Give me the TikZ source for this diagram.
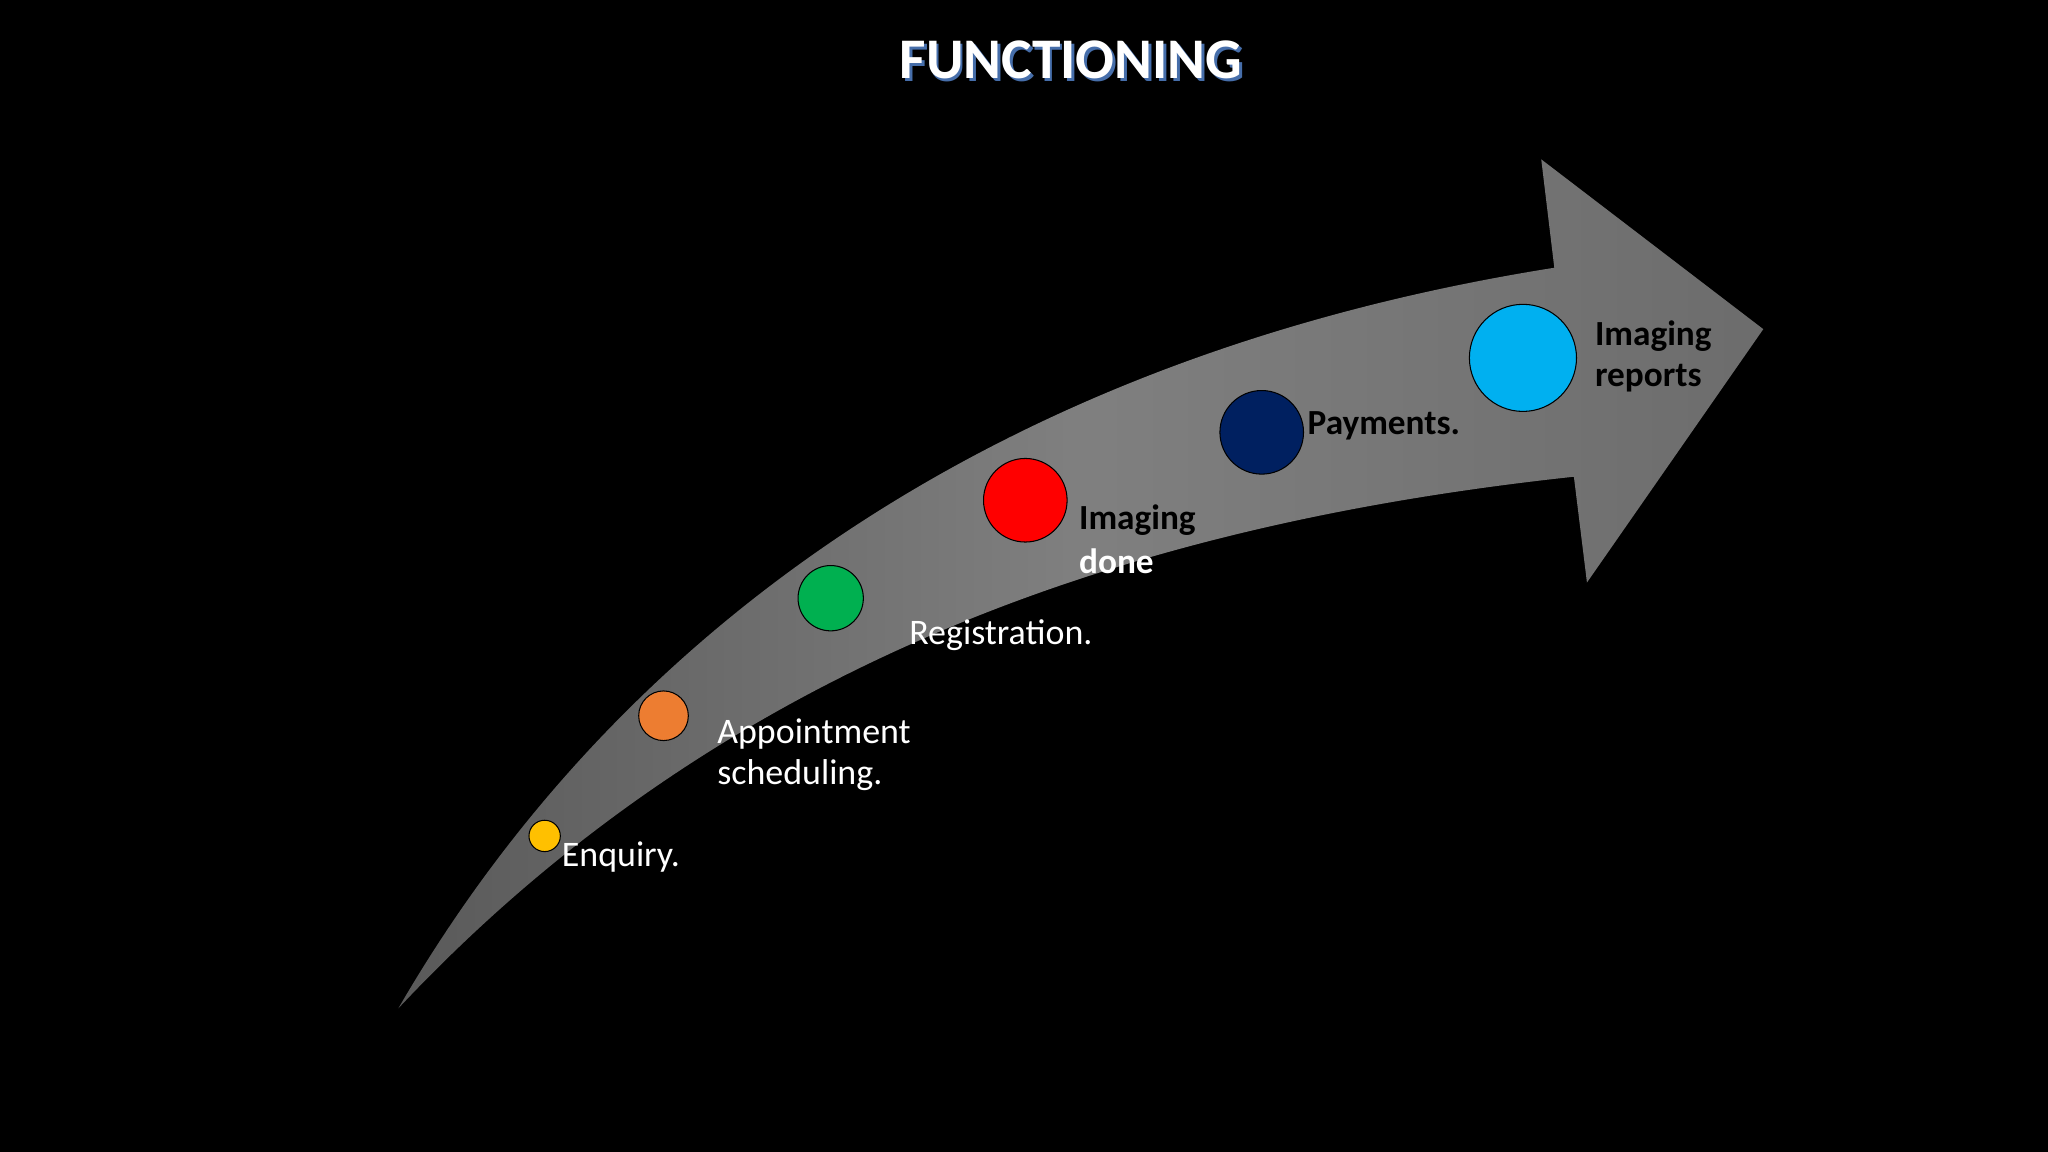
\documentclass[tikz,border=0pt]{standalone}
\usepackage{fontspec}
\setmainfont{Carlito}
\begin{document}
\begin{tikzpicture}[x=1pt,y=-1pt,
  dot/.style={circle,draw=black,line width=0.8pt,inner sep=0pt},
  lbl/.style={anchor=west,inner sep=0pt,font=\fontsize{27.5}{31}\selectfont,align=left,text=white},
  blbl/.style={lbl,text=black,font=\fontsize{27}{31}\selectfont\bfseries}]
\fill[black] (0,0) rectangle (1568,882);
\useasboundingbox (0,0) rectangle (1568,882);
\shade[left color=gray!70!black, right color=gray!85!black, middle color=gray]
  (305,772) .. controls (480,470) and (780,270) .. (1190,205)
  -- (1180,122) -- (1350,252) -- (1215,446) -- (1205,365)
  .. controls (880,400) and (560,500) .. (305,772) -- cycle;
\node[dot,fill={rgb,255:red,255;green,192;blue,0},minimum size=24] (n1) at (417,640) {};
\node[dot,fill={rgb,255:red,237;green,125;blue,49},minimum size=38] (n2) at (508,548) {};
\node[dot,fill={rgb,255:red,0;green,176;blue,80},minimum size=50] (n3) at (636,458) {};
\node[dot,fill=red,minimum size=64] (n4) at (785,383) {};
\node[dot,fill={rgb,255:red,0;green,32;blue,96},minimum size=64] (n5) at (966,331) {};
\node[dot,fill={rgb,255:red,0;green,176;blue,240},minimum size=82] (n6) at (1166,274) {};
\node[lbl] (t1) at (430,656) {Enquiry.};
\node[lbl] (t2) at (549,578) {Appointment\\scheduling.};
\node[lbl] (t3) at (696,486) {Registration.};
\node[blbl] (t4a) at (826,398) {Imaging};
\node[blbl,text=white] (t4b) at (826,430) {done};
\node[blbl] (t5) at (1001,326) {Payments.};
\node[blbl] (t6) at (1221,273) {Imaging\\reports};
\node[font=\fontsize{44}{46}\selectfont\bfseries,text={rgb,255:red,70;green,110;blue,170}] at (822,48) {FUNCTIONING};
\node[font=\fontsize{44}{46}\selectfont\bfseries,text=white] (title) at (820,46) {FUNCTIONING};
\end{tikzpicture}
\end{document}
